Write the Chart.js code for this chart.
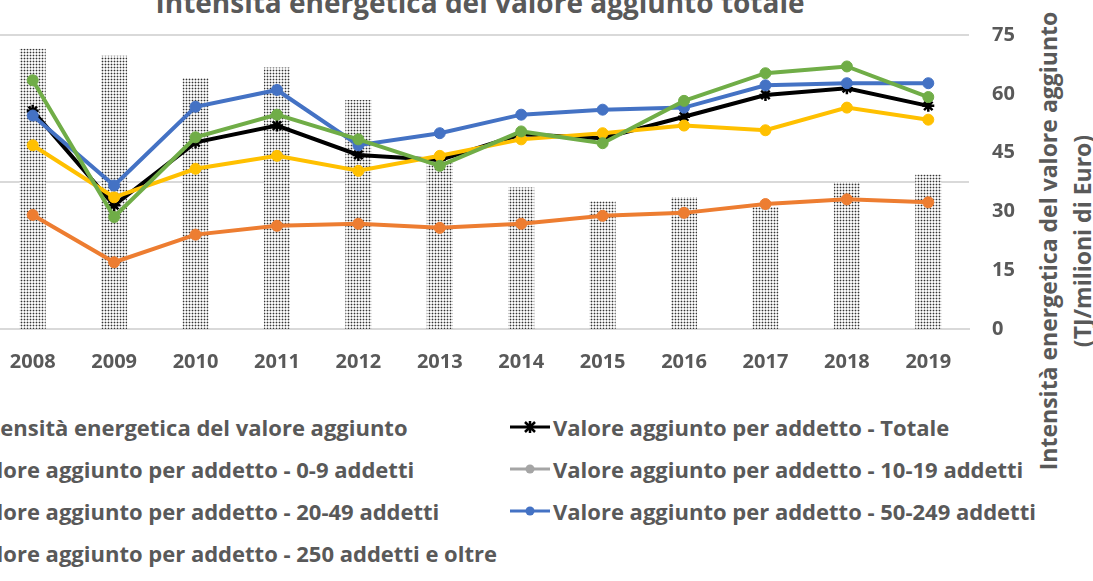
<!DOCTYPE html>
<html>
<head>
<meta charset="utf-8">
<script src="https://cdn.jsdelivr.net/npm/chart.js@4.4.0/dist/chart.umd.min.js"></script>
<style>
  body { margin: 0; width: 1093px; height: 581px; overflow: hidden; position: relative; background: #fff;
         font-family: "Open Sans", sans-serif; color: #595959; }
  #wrap { position: absolute; left: -100px; top: 0; }
  #title { position: absolute; left: 0; width: 960px; top: -12px; text-align: center; font-weight: bold;
           font-size: 28px; line-height: 28px; white-space: nowrap; }
  #ytitle { position: absolute; left: 1065px; top: 241px; transform: translate(-50%, -50%) rotate(-90deg);
            white-space: nowrap; text-align: center; font-weight: bold; font-size: 23px; line-height: 34px; }
  #legend { position: absolute; left: -74px; top: 406px; width: 1200px; }
  .item { position: absolute; height: 42px; line-height: 42px; font-weight: bold; font-size: 22px; white-space: nowrap; }
  .item svg { position: absolute; left: 0; top: 13px; }
  .item span { position: absolute; left: 43px; }
</style>
</head>
<body>
<div id="title">Intensità energetica del valore aggiunto totale</div>
<div id="wrap"><canvas id="chart" width="1119" height="380"></canvas></div>
<div id="ytitle">Intensità energetica del valore aggiunto<br>(TJ/milioni di Euro)</div>
<div id="legend"></div>
<script>
const years = ["2008", "2009", "2010", "2011", "2012", "2013", "2014", "2015", "2016", "2017", "2018", "2019"];

// bars, right axis (TJ/milioni di Euro)
const intensita = [71.5, 69.7, 64.0, 66.7, 58.4, 42.4, 36.1, 32.6, 33.6, 31.1, 37.4, 39.4];

// lines, left axis (hidden)
const totale = [74.2, 42.1, 63.5, 69.2, 59.2, 57.5, 66.2, 64.9, 72.2, 79.6, 81.9, 75.9];
const addetti_0_9 = [38.8, 22.7, 32.1, 35.1, 35.8, 34.4, 35.8, 38.5, 39.5, 42.5, 44.1, 43.1];
const addetti_10_19 = [];
const addetti_20_49 = [62.5, 44.8, 54.5, 58.9, 53.8, 58.9, 64.5, 66.6, 69.2, 67.6, 75.3, 71.2];
const addetti_50_249 = [72.6, 48.8, 75.6, 81.3, 62.5, 66.6, 72.9, 74.6, 75.3, 82.9, 83.6, 83.6];
const addetti_250 = [84.6, 38.1, 65.2, 72.9, 64.5, 55.5, 67.2, 63.2, 77.6, 87.0, 89.3, 78.9];

const grey = "#595959";
const tickFont = { family: "Open Sans", size: 20, weight: "bold" };

// dotted fill for the bars
const tile = document.createElement("canvas");
tile.width = 3; tile.height = 3;
const tctx = tile.getContext("2d");
tctx.fillStyle = "#f8f8f8";
tctx.fillRect(0, 0, 3, 3);
tctx.fillStyle = "#bdbdbd";
tctx.fillRect(1, 0, 1, 3);
tctx.fillRect(0, 1, 3, 1);
tctx.fillStyle = "#333";
tctx.fillRect(1, 1, 1, 1);
const dots = tctx.createPattern(tile, "repeat");

function lineSet(label, data, color, order, style) {
  return {
    type: "line",
    label: label,
    data: data,
    yAxisID: "y",
    borderColor: color,
    backgroundColor: color,
    borderWidth: 4,
    pointStyle: style || "circle",
    pointRadius: style === "star" ? 6 : 5.5,
    pointBorderWidth: style === "star" ? 2.5 : 1,
    pointBorderColor: color,
    tension: 0,
    order: order
  };
}

const datasets = [
  {
    type: "bar",
    label: "Intensità energetica del valore aggiunto",
    data: intensita,
    yAxisID: "y1",
    backgroundColor: dots,
    barPercentage: 0.32,
    categoryPercentage: 1,
    order: 10
  },
  lineSet("Valore aggiunto per addetto - Totale", totale, "#000000", 6, "star"),
  lineSet("Valore aggiunto per addetto - 0-9 addetti", addetti_0_9, "#ED7D31", 5),
  lineSet("Valore aggiunto per addetto - 10-19 addetti", addetti_10_19, "#A5A5A5", 4),
  lineSet("Valore aggiunto per addetto - 20-49 addetti", addetti_20_49, "#FFC000", 3),
  lineSet("Valore aggiunto per addetto - 50-249 addetti", addetti_50_249, "#4472C4", 2),
  lineSet("Valore aggiunto per addetto - 250 addetti e oltre", addetti_250, "#70AD47", 1)
];

const chart = new Chart(document.getElementById("chart"), {
  type: "bar",
  data: { labels: years, datasets: datasets },
  options: {
    responsive: false,
    animation: false,
    layout: { padding: { left: 92, top: 30, right: 0, bottom: 0 } },
    plugins: { legend: { display: false }, tooltip: { enabled: false } },
    scales: {
      x: {
        grid: { display: false },
        border: { color: "#d9d9d9", width: 2 },
        ticks: { color: grey, font: tickFont, padding: 13 },
        afterFit(s) { s.height = 51; }
      },
      y: {
        position: "left",
        min: 0, max: 100,
        ticks: { display: false, stepSize: 50 },
        grid: { color: "#d9d9d9", lineWidth: 2, drawTicks: false },
        border: { display: false },
        afterFit(s) { s.width = 0; }
      },
      y1: {
        position: "right",
        min: 0, max: 75,
        ticks: { stepSize: 15, color: grey, font: tickFont, padding: 23 },
        grid: { display: false, drawTicks: false },
        border: { display: false },
        afterFit(s) { s.width = 50; }
      }
    }
  }
});

// legend in two columns
const legend = document.getElementById("legend");
datasets.forEach((d, i) => {
  const item = document.createElement("div");
  item.className = "item";
  item.style.left = (i % 2) * 584 + "px";
  item.style.top = Math.floor(i / 2) * 42 + "px";
  let svg;
  if (d.type === "bar") {
    svg = '<svg width="40" height="16"><rect x="12" y="0" width="16" height="16" fill="#999"/></svg>';
  } else if (d.pointStyle === "star") {
    svg = '<svg width="40" height="16"><line x1="0" y1="8" x2="40" y2="8" stroke="' + d.borderColor + '" stroke-width="3"/>' +
      '<path d="M15 3 L25 13 M25 3 L15 13 M20 2 L20 14" stroke="' + d.borderColor + '" stroke-width="2.5"/></svg>';
  } else {
    svg = '<svg width="40" height="16"><line x1="0" y1="8" x2="40" y2="8" stroke="' + d.borderColor + '" stroke-width="3"/>' +
      '<circle cx="20" cy="8" r="4.5" fill="' + d.borderColor + '"/></svg>';
  }
  item.innerHTML = svg + "<span>" + d.label + "</span>";
  legend.appendChild(item);
});
</script>
</body>
</html>
